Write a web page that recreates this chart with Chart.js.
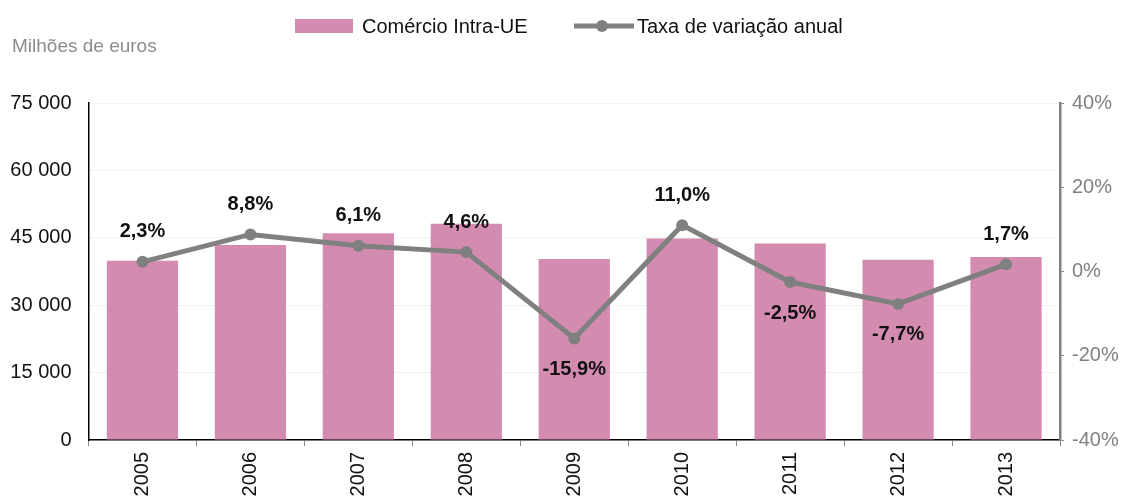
<!DOCTYPE html>
<html>
<head>
<meta charset="utf-8">
<script src="https://cdn.jsdelivr.net/npm/chart.js@4.4.1/dist/chart.umd.min.js"></script>
<style>
    body { margin: 0; background: #fff; }
    canvas { display: block; }
</style>
</head>
<body>
<canvas id="myChart" width="1126" height="497"></canvas>
<script>
// Chart data
const years = ['2005', '2006', '2007', '2008', '2009', '2010', '2011', '2012', '2013'];
const tradeValues = [39900, 43400, 46000, 48100, 40300, 44850, 43750, 40100, 40750]; // milhões de euros
const growthRates = [2.3, 8.8, 6.1, 4.6, -15.9, 11.0, -2.5, -7.7, 1.7]; // %
const leftTicks = [0, 15000, 30000, 45000, 60000, 75000];
const rightTicks = [-40, -20, 0, 20, 40];

const barColor = '#d38cb0';
const lineColor = '#808080';
const fontFamily = '"Liberation Sans", Arial, sans-serif';

Chart.defaults.font.family = fontFamily;
Chart.defaults.font.size = 20;
Chart.defaults.color = '#111';

function thousands(v) {
    return String(v).replace(/\B(?=(\d{3})+(?!\d))/g, ' ');
}

// Legend and unit caption drawn on top
const headerPlugin = {
    id: 'header',
    afterDraw(chart) {
        const ctx = chart.ctx;
        ctx.save();
        ctx.textBaseline = 'middle';
        ctx.textAlign = 'left';

        // unit caption
        ctx.font = '19px ' + fontFamily;
        ctx.fillStyle = '#8c8c8c';
        ctx.fillText('Milhões de euros', 12, 47);

        // bar legend item
        ctx.font = '20px ' + fontFamily;
        ctx.fillStyle = barColor;
        ctx.fillRect(295, 19, 58, 14);
        ctx.fillStyle = '#111';
        ctx.fillText(chart.data.datasets[1].label, 362, 27);

        // line legend item
        ctx.strokeStyle = lineColor;
        ctx.lineWidth = 5;
        ctx.beginPath();
        ctx.moveTo(574, 26);
        ctx.lineTo(634, 26);
        ctx.stroke();
        ctx.fillStyle = lineColor;
        ctx.beginPath();
        ctx.arc(602, 26, 6, 0, Math.PI * 2);
        ctx.fill();
        ctx.fillStyle = '#111';
        ctx.fillText(chart.data.datasets[0].label, 637, 27);
        ctx.restore();
    }
};

// Value labels above/below the line points
const rateLabelsPlugin = {
    id: 'rateLabels',
    afterDatasetsDraw(chart) {
        const ctx = chart.ctx;
        const meta = chart.getDatasetMeta(0);
        ctx.save();
        ctx.font = 'bold 20px ' + fontFamily;
        ctx.fillStyle = '#111';
        ctx.textAlign = 'center';
        ctx.textBaseline = 'middle';
        meta.data.forEach((pt, i) => {
            const v = growthRates[i];
            const y = v < 0 ? pt.y + 31 : pt.y - 30;
            ctx.fillText(v.toFixed(1).replace('.', ',') + '%', pt.x, y);
        });
        ctx.restore();
    }
};

const ctx = document.getElementById('myChart').getContext('2d');
const myChart = new Chart(ctx, {
    type: 'bar',
    data: {
        labels: years,
        datasets: [
            {
                type: 'line',
                label: 'Taxa de variação anual',
                data: growthRates,
                yAxisID: 'yRate',
                borderColor: lineColor,
                backgroundColor: lineColor,
                borderWidth: 5,
                pointRadius: 6,
                pointBackgroundColor: lineColor,
                pointBorderWidth: 0,
                tension: 0,
                order: 0
            },
            {
                type: 'bar',
                label: 'Comércio Intra-UE',
                data: tradeValues,
                yAxisID: 'yValue',
                backgroundColor: barColor,
                barPercentage: 0.66,
                categoryPercentage: 1.0,
                order: 1
            }
        ]
    },
    options: {
        responsive: false,
        animation: false,
        layout: { padding: { top: 103, left: 0, right: 0, bottom: 0 } },
        plugins: {
            legend: { display: false },
            tooltip: { enabled: false }
        },
        scales: {
            x: {
                offset: true,
                grid: {
                    offset: true,
                    drawOnChartArea: false,
                    tickLength: 6,
                    color: '#888'
                },
                border: { color: '#000', width: 1.5 },
                ticks: {
                    minRotation: 90,
                    maxRotation: 90,
                    padding: 6,
                    color: '#111'
                },
                afterFit(scale) { scale.height = 57; }
            },
            yValue: {
                position: 'left',
                min: 0,
                max: 75000,
                afterBuildTicks(scale) {
                    scale.ticks = leftTicks.map(v => ({ value: v }));
                },
                grid: {
                    color: '#f1f1f1',
                    drawTicks: false
                },
                border: { color: '#000', width: 1.5 },
                ticks: {
                    padding: 17,
                    color: '#111',
                    callback: v => thousands(v)
                },
                afterFit(scale) { scale.width = 88.5; }
            },
            yRate: {
                position: 'right',
                min: -40,
                max: 40,
                afterBuildTicks(scale) {
                    scale.ticks = rightTicks.map(v => ({ value: v }));
                },
                grid: {
                    drawOnChartArea: false,
                    tickLength: 4,
                    color: '#888'
                },
                border: { color: '#808080', width: 2.5 },
                ticks: {
                    padding: 8,
                    color: '#808080',
                    callback: v => v + '%'
                },
                afterFit(scale) { scale.width = 66; }
            }
        }
    },
    plugins: [headerPlugin, rateLabelsPlugin]
});
</script>
</body>
</html>
